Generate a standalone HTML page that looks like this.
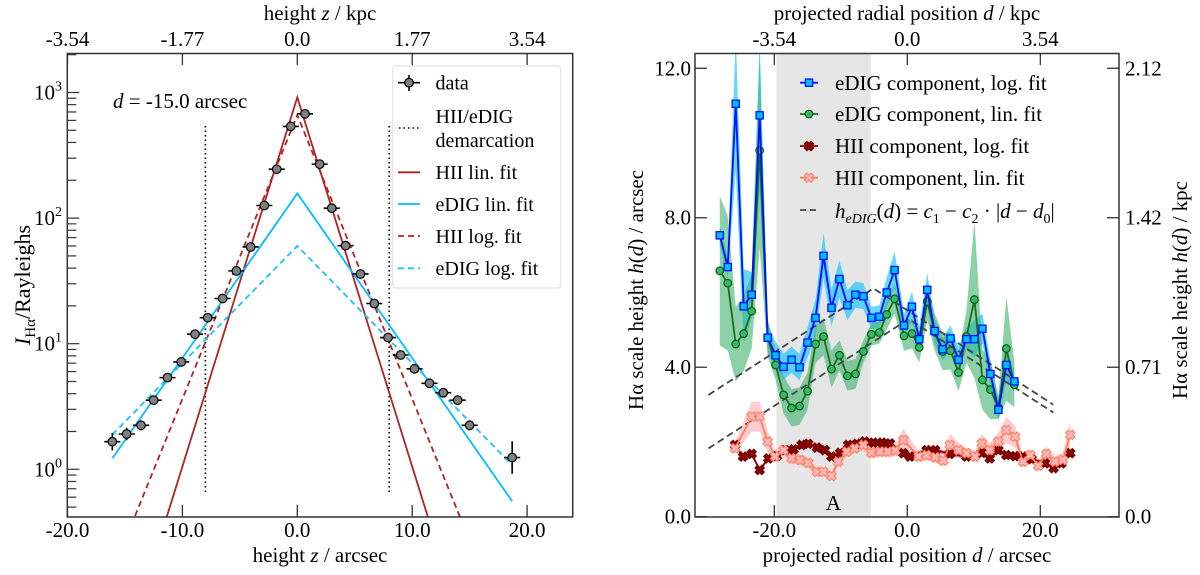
<!DOCTYPE html>
<html><head><meta charset="utf-8"><style>
html,body{margin:0;padding:0;background:#fff;width:1200px;height:575px;overflow:hidden;}
svg{display:block;}
svg, svg text{font-family:"Liberation Serif","DejaVu Serif","Times New Roman",serif;}
</style></head><body>
<svg id="fig" width="1200" height="575" viewBox="0 0 1200 575" font-family="Liberation Serif, DejaVu Serif, serif" xmlns="http://www.w3.org/2000/svg">
<defs>
<clipPath id="clipL"><rect x="67.3" y="53.5" width="505.4" height="463.5"/></clipPath>
<clipPath id="clipR"><rect x="695" y="53.5" width="424" height="463.5"/></clipPath>
</defs>
<g id="left"></g>
<g id="right"></g>
</svg>
<script>
// ---------- LEFT PANEL DATA ----------
const zData=[-16.1,-14.85,-13.6,-12.5,-11.3,-10.1,-8.9,-7.8,-6.5,-5.3,-4.06,-2.87,-1.79,-0.57,0.67,1.95,3.0,4.2,5.5,6.7,7.9,9.0,10.2,11.5,12.7,13.96,15.0,18.7];
const iData=[1.66,1.91,2.24,3.55,5.37,7.16,11.9,16.1,22.9,38.0,58.9,126,245,537,676,269,120,60.3,35.9,20.9,11.2,8.13,6.31,4.84,4.07,3.55,2.24,1.24];
const iErrDex=[0.07,0.05,0.04,0.03,0.03,0.03,0.03,0.03,0.03,0.03,0.03,0.03,0.03,0.03,0.03,0.03,0.03,0.03,0.03,0.03,0.03,0.03,0.03,0.03,0.03,0.03,0.04,0.13];
const zErr=0.7;
const fitNames=["HII lin. fit","eDIG lin. fit","HII log. fit","eDIG log. fit"];
const fitPeak=[916,157,661,60];
const fitSlopeDex=[0.294,0.131,0.226,0.0933];
const fitZmin=[-20,-16.1,-20,-16.1];
const fitZmax=[24,18.7,24,18.7];
const demarcZ=[-8,8];
const xTicksL=[-20,-10,0,10,20];
const xTickLabelsL=["-20.0","-10.0","0.0","10.0","20.0"];
const topTickLabelsL=["-3.54","-1.77","0.0","1.77","3.54"];
const yDecades=[0,1,2,3];

// ---------- RIGHT PANEL DATA ----------
const dGrid=[-28.2,-27.0,-25.8,-24.6,-23.4,-22.2,-21.0,-19.8,-18.6,-17.4,-16.2,-15.0,-13.8,-12.6,-11.4,-10.2,-9.0,-7.8,-6.6,-5.4,-4.2,-3.1,-1.9,-0.5,0.7,1.8,3.0,4.1,5.3,6.5,7.7,8.9,10.1,11.3,12.5,13.7,14.9,16.1];
const edigLog=[7.53,6.68,11.05,5.63,5.94,10.74,4.79,4.32,4.01,4.2,4.0,4.66,5.32,6.98,5.59,6.36,5.66,5.94,5.9,5.32,5.35,6.0,6.6,5.12,5.62,4.75,6.07,4.97,4.48,4.77,4.2,4.75,4.75,5.03,3.82,2.86,4.06,3.62];
const edigLogErr=[0.25,0.3,1.8,1.0,0.6,2.0,0.4,0.35,0.35,0.35,0.35,0.4,0.5,0.6,0.5,0.5,0.4,0.35,0.35,0.3,0.3,0.4,0.5,0.3,0.4,0.35,0.45,0.35,0.3,0.35,0.35,0.3,0.5,0.4,0.35,0.3,0.4,0.3];
const edigLin=[6.58,6.25,4.62,4.9,5.5,9.8,4.79,4.06,3.26,2.91,2.96,3.36,4.62,4.82,3.95,4.32,3.77,3.82,4.42,4.88,4.93,5.41,5.83,4.84,4.9,4.53,5.76,4.95,4.42,4.44,3.86,4.82,5.81,3.66,3.4,2.92,4.5,3.53];
const edigLinErr=[2.0,1.8,1.0,1.0,1.0,2.6,0.5,0.4,0.5,0.5,0.5,0.5,0.5,0.5,0.5,0.4,0.4,0.4,0.3,0.3,0.3,0.4,0.4,0.4,0.4,0.4,0.5,0.5,0.5,0.5,0.5,0.7,2.1,0.8,0.8,0.3,1.4,0.6];
const hiiLogD=[-25.9,-24.7,-23.4,-22.2,-20.9,-19.6,-18.4,-17.1,-15.9,-14.9,-13.6,-12.4,-11.4,-10.1,-8.9,-7.6,-6.4,-5.1,-3.8,-2.6,-0.6,0.4,2.9,4.2,6.4,8.9,11.2,12.4,13.7,14.9,16.2,17.4,18.7,20.7,22.0,23.2,24.5];
const hiiLog=[1.92,1.61,1.68,1.25,1.56,1.62,1.78,1.80,1.92,1.95,1.85,1.78,1.61,1.71,1.92,1.95,2.01,1.98,1.98,1.96,1.70,1.61,1.78,1.78,1.68,1.61,1.71,1.56,1.78,1.65,1.62,1.61,1.54,1.43,1.30,1.43,1.70];
const hiiLinD=[-25.9,-23.4,-22.2,-21.0,-19.9,-18.6,-17.4,-16.1,-14.9,-13.6,-12.6,-11.4,-10.4,-9.1,-7.9,-6.6,-5.4,-4.1,-2.9,-1.8,-0.6,1.7,2.9,4.2,5.4,6.4,7.7,8.9,10.2,11.2,12.4,13.7,14.9,16.2,17.4,18.5,19.7,20.9,22.2,23.4,24.5];
const hiiLin=[1.83,2.68,2.68,2.01,1.61,1.78,1.56,1.52,1.44,1.20,1.20,1.09,1.47,1.74,1.83,1.92,1.71,1.74,1.74,1.77,2.05,1.61,1.65,1.59,1.50,1.92,1.78,1.70,1.61,1.96,1.78,2.01,2.32,2.14,1.47,1.65,1.36,1.68,1.47,1.52,2.19];
const hiiLinErr=[0.15,0.4,0.4,0.3,0.15,0.15,0.15,0.15,0.15,0.12,0.12,0.12,0.15,0.15,0.15,0.15,0.15,0.15,0.15,0.15,0.3,0.15,0.15,0.15,0.15,0.3,0.2,0.15,0.15,0.25,0.2,0.25,0.35,0.3,0.15,0.15,0.15,0.2,0.15,0.2,0.35];
const fitC1=[6.11,5.29];
const fitC2=[0.115,0.115];
const fitD0=[-5.1,0.2];
const fitDRange=[-29.9,21.95];
const regionA=[-19.7,-5.5];
const xTicksR=[-20,0,20];
const xTickLabelsR=["-20.0","0.0","20.0"];
const topTickLabelsR=["-3.54","0.0","3.54"];
const yTicksR=[0,4,8,12];
const yTickLabelsR=["0.0","4.0","8.0","12.0"];
const yTickLabelsKpc=["0.0","0.71","1.42","2.12"];

// ---------- helpers ----------
const NS="http://www.w3.org/2000/svg";
const FF="Liberation Serif, DejaVu Serif, serif";
function mk(parent,tag,attrs,text){const e=document.createElementNS(NS,tag);for(const k in attrs)e.setAttribute(k,attrs[k]);if(tag==='text')e.setAttribute('font-family',FF);if(text!==undefined)e.textContent=text;parent.appendChild(e);return e;}
const xL=z=>297.3+11.49*z;
const yL=I=>469.3-125.6*Math.log10(I);
const xR=d=>907.3+6.65*d;
const yR=h=>516.7-37.37*h;
const L=document.getElementById('left'), R=document.getElementById('right');

// ===== LEFT =====
const gL=mk(L,'g',{'clip-path':'url(#clipL)'});


demarcZ.forEach(z=>{const l=mk(gL,'line',{x1:xL(z),x2:xL(z),y1:126,y2:495,stroke:'#000','stroke-width':1.6,'stroke-dasharray':'1.5,3'});

});
const fitColors=['#b22222','#00bfff','#b22222','#1ec0f5'];
const fitDash=['','','6,4','6,4'];
const fitKeys=['hii-lin-fit','edig-lin-fit','hii-log-fit','edig-log-fit'];
for(let i=0;i<4;i++){
  const z1=fitZmin[i],z2=fitZmax[i];
  const f=z=>fitPeak[i]*Math.pow(10,-fitSlopeDex[i]*Math.abs(z));
  const p=`M${xL(z1)},${yL(f(z1))} L${xL(0)},${yL(f(0))} L${xL(z2)},${yL(f(z2))}`;
  const e=mk(gL,'path',{d:p,fill:'none',stroke:fitColors[i],'stroke-width':1.8,'stroke-dasharray':fitDash[i]});
  
  
}
zData.forEach((z,i)=>{
  const g=mk(gL,'g',{});
  
  
  const x=xL(z),y=yL(iData[i]);
  mk(g,'line',{x1:xL(z-zErr),x2:xL(z+zErr),y1:y,y2:y,stroke:'#000','stroke-width':1.6});
  mk(g,'line',{x1:x,x2:x,y1:yL(iData[i]*Math.pow(10,iErrDex[i])),y2:yL(iData[i]/Math.pow(10,iErrDex[i])),stroke:'#000','stroke-width':1.6});
  mk(g,'circle',{cx:x,cy:y,r:4.3,fill:'#808080',stroke:'#000','stroke-width':1.2});
});
const fL=mk(L,'rect',{x:67.3,y:53.5,width:505.4,height:463.5,fill:'none',stroke:'#333','stroke-width':1.5});


xTicksL.forEach((z,i)=>{
  mk(L,'line',{x1:xL(z),x2:xL(z),y1:517,y2:505,stroke:'#333','stroke-width':1.3});
  mk(L,'line',{x1:xL(z),x2:xL(z),y1:53.5,y2:65,stroke:'#333','stroke-width':1.3});
  const t=mk(L,'text',{x:xL(z),y:537,'text-anchor':'middle','font-size':21},xTickLabelsL[i]);
  
  
  const t2=mk(L,'text',{x:xL(z),y:46,'text-anchor':'middle','font-size':21},topTickLabelsL[i]);
  
  
});
for(let dec=-1;dec<=3;dec++){for(let k=1;k<=9;k++){const v=k*Math.pow(10,dec);const y=yL(v);if(y<54||y>516)continue;
  mk(L,'line',{x1:67.3,x2:67.3+(k===1?12:9),y1:y,y2:y,stroke:'#333','stroke-width':1.2});}}
yDecades.forEach(p=>{const t=mk(L,'text',{x:62,y:yL(Math.pow(10,p))+7,'text-anchor':'end','font-size':21});
  
  
  t.appendChild(document.createTextNode('10'));mk(t,'tspan',{dy:-9,'font-size':14},String(p));});
</script>
<script>
(function(){
const L=document.getElementById('left');
L.insertAdjacentHTML('beforeend',`
<text x="320" y="562" text-anchor="middle" font-size="21" font-family="Liberation Serif, DejaVu Serif, serif">height <tspan font-style="italic">z</tspan> / arcsec</text>
<text x="320" y="20" text-anchor="middle" font-size="21" font-family="Liberation Serif, DejaVu Serif, serif">height <tspan font-style="italic">z</tspan> / kpc</text>
<text transform="translate(30,285) rotate(-90)" text-anchor="middle" font-size="22" font-family="Liberation Serif, DejaVu Serif, serif"><tspan font-style="italic">I</tspan><tspan font-size="15" dy="5">Hα</tspan><tspan dy="-5">/Rayleighs</tspan></text>
<text x="113" y="108" font-size="21" font-family="Liberation Serif, DejaVu Serif, serif"><tspan font-style="italic">d</tspan> = -15.0 arcsec</text>
<g font-family="Liberation Serif, DejaVu Serif, serif">
<rect x="392.7" y="66" width="168" height="222" rx="3" fill="#fff" fill-opacity="0.85" stroke="#ddd" stroke-width="1"/>
<g><line x1="398" x2="420" y1="82.7" y2="82.7" stroke="#000" stroke-width="1.6"/><line x1="409" x2="409" y1="75" y2="91" stroke="#000" stroke-width="1.6"/><circle cx="409" cy="82.7" r="4.3" fill="#808080" stroke="#000" stroke-width="1.2"/><text x="435.5" y="89.5" font-size="20">data</text></g>
<g><line x1="399" x2="420" y1="128" y2="128" stroke="#000" stroke-width="1.6" stroke-dasharray="1.5,3"/><text x="435.5" y="123" font-size="20">HII/eDIG</text><text x="435.5" y="147" font-size="20">demarcation</text></g>
<g><line x1="398" x2="420" y1="172.3" y2="172.3" stroke="#b22222" stroke-width="1.8"/><text x="435.5" y="179" font-size="20">HII lin. fit</text></g>
<g><line x1="398" x2="420" y1="204" y2="204" stroke="#00bfff" stroke-width="1.8"/><text x="435.5" y="211" font-size="20">eDIG lin. fit</text></g>
<g><line x1="398" x2="420" y1="236" y2="236" stroke="#b22222" stroke-width="1.8" stroke-dasharray="6,4"/><text x="435.5" y="243" font-size="20">HII log. fit</text></g>
<g><line x1="398" x2="420" y1="268.3" y2="268.3" stroke="#1ec0f5" stroke-width="1.8" stroke-dasharray="6,4"/><text x="435.5" y="275" font-size="20">eDIG log. fit</text></g>
</g>`);
})();
</script>
<script>
(function(){
const gR=mk(R,'g',{'clip-path':'url(#clipR)'});


const ra=mk(gR,'rect',{x:xR(regionA[0]),y:53.5,width:xR(regionA[1])-xR(regionA[0]),height:463.5,fill:'#e6e6e6'});


const ta=mk(gR,'text',{x:(xR(regionA[0])+xR(regionA[1]))/2+10,y:510,'text-anchor':'middle','font-size':21},'A');


function band(xs,ys,errs,color,op,name){
  let p='M'+xs.map((d,i)=>xR(d)+','+yR(ys[i]+errs[i])).join(' L');
  for(let i=xs.length-1;i>=0;i--)p+=' L'+xR(xs[i])+','+yR(ys[i]-errs[i]);
  const e=mk(gR,'path',{d:p+'Z',fill:color,'fill-opacity':op,stroke:'none'});
  
  
}
band(dGrid,edigLog,edigLogErr,'#00bfff',0.6,'edig-log-band');
band(dGrid,edigLin,edigLinErr,'#3cb371',0.6,'edig-lin-band');
band(hiiLinD,hiiLin,hiiLinErr,'#ffb6c1',0.7,'hii-lin-band');
band(hiiLogD,hiiLog,hiiLog.map(()=>0.06),'#8b0000',0.35,'hii-log-band');
for(let k=0;k<2;k++){
  const f=d=>fitC1[k]-fitC2[k]*Math.abs(d-fitD0[k]);
  const p=`M${xR(fitDRange[0])},${yR(f(fitDRange[0]))} L${xR(fitD0[k])},${yR(f(fitD0[k]))} L${xR(fitDRange[1])},${yR(f(fitDRange[1]))}`;
  const e=mk(gR,'path',{d:p,fill:'none',stroke:'#444','stroke-width':1.8,'stroke-dasharray':'7,4'});
  
  
}
function xMark(g,cx,cy,fill,stroke){
  const a=4.8,b=1.9;
  const pts=[[b,a],[b,b],[a,b],[a,-b],[b,-b],[b,-a],[-b,-a],[-b,-b],[-a,-b],[-a,b],[-b,b],[-b,a]].map(p=>p.join(',')).join(' ');
  mk(g,'polygon',{points:pts,transform:`translate(${cx},${cy}) rotate(45)`,fill:fill,stroke:stroke,'stroke-width':1});
}
function series(xs,ys,lineColor,name,marker){
  const g=mk(gR,'g',{});
  
  
  mk(g,'polyline',{points:xs.map((d,i)=>xR(d)+','+yR(ys[i])).join(' '),fill:'none',stroke:lineColor,'stroke-width':1.8});
  xs.forEach((d,i)=>marker(g,xR(d),yR(ys[i])));
}
series(hiiLogD,hiiLog,'#8b0000','hii-log-series',(g,x,y)=>xMark(g,x,y,'#8b0000','#6b0000'));
series(hiiLinD,hiiLin,'#ff7f50','hii-lin-series',(g,x,y)=>xMark(g,x,y,'#ffb6c1','#ff7f50'));
series(dGrid,edigLin,'#1a6e1a','edig-lin-series',(g,x,y)=>mk(g,'circle',{cx:x,cy:y,r:3.8,fill:'#3cb371',stroke:'#006400','stroke-width':1.2}));
series(dGrid,edigLog,'#0010ff','edig-log-series',(g,x,y)=>mk(g,'rect',{x:x-3.6,y:y-3.6,width:7.2,height:7.2,fill:'#00bfff',stroke:'#0010ff','stroke-width':1.3}));
const fr=mk(R,'rect',{x:695,y:53.5,width:424,height:463.5,fill:'none',stroke:'#333','stroke-width':1.5});


xTicksR.forEach((d,i)=>{
  mk(R,'line',{x1:xR(d),x2:xR(d),y1:517,y2:505,stroke:'#333','stroke-width':1.3});
  mk(R,'line',{x1:xR(d),x2:xR(d),y1:53.5,y2:65,stroke:'#333','stroke-width':1.3});
  const t=mk(R,'text',{x:xR(d),y:537,'text-anchor':'middle','font-size':21},xTickLabelsR[i]);
  
  
  const t2=mk(R,'text',{x:xR(d),y:46,'text-anchor':'middle','font-size':21},topTickLabelsR[i]);
  
  
});
yTicksR.forEach((h,i)=>{
  mk(R,'line',{x1:695,x2:707,y1:yR(h),y2:yR(h),stroke:'#333','stroke-width':1.3});
  mk(R,'line',{x1:1119,x2:1107,y1:yR(h),y2:yR(h),stroke:'#333','stroke-width':1.3});
  const t=mk(R,'text',{x:691,y:yR(h)+7,'text-anchor':'end','font-size':21},yTickLabelsR[i]);
  
  
  const t2=mk(R,'text',{x:1125,y:yR(h)+7,'text-anchor':'start','font-size':21},yTickLabelsKpc[i]);
  
  
});
R.insertAdjacentHTML('beforeend',`
<text x="907" y="562" text-anchor="middle" font-size="21" font-family="Liberation Serif, DejaVu Serif, serif">projected radial position <tspan font-style="italic">d</tspan> / arcsec</text>
<text x="907" y="20" text-anchor="middle" font-size="21" font-family="Liberation Serif, DejaVu Serif, serif">projected radial position <tspan font-style="italic">d</tspan> / kpc</text>
<text transform="translate(643,290) rotate(-90)" text-anchor="middle" font-size="21" font-family="Liberation Serif, DejaVu Serif, serif">Hα scale height <tspan font-style="italic">h</tspan>(<tspan font-style="italic">d</tspan>) / arcsec</text>
<text transform="translate(1187,290) rotate(-90)" text-anchor="middle" font-size="21" font-family="Liberation Serif, DejaVu Serif, serif">Hα scale height <tspan font-style="italic">h</tspan>(<tspan font-style="italic">d</tspan>) / kpc</text>
<g font-family="Liberation Serif, DejaVu Serif, serif">
<g><line x1="800" x2="818" y1="82.7" y2="82.7" stroke="#0010ff" stroke-width="1.8"/><rect x="805.4" y="79.1" width="7.2" height="7.2" fill="#00bfff" stroke="#0010ff" stroke-width="1.3"/><text x="835" y="90" font-size="21">eDIG component, log. fit</text></g>
<g><line x1="800" x2="818" y1="114" y2="114" stroke="#1a6e1a" stroke-width="1.8"/><circle cx="809" cy="114" r="3.8" fill="#3cb371" stroke="#006400" stroke-width="1.2"/><text x="835" y="121" font-size="21">eDIG component, lin. fit</text></g>
<g><line x1="800" x2="818" y1="146" y2="146" stroke="#8b0000" stroke-width="1.8"/><polygon points="1.9,4.8 1.9,1.9 4.8,1.9 4.8,-1.9 1.9,-1.9 1.9,-4.8 -1.9,-4.8 -1.9,-1.9 -4.8,-1.9 -4.8,1.9 -1.9,1.9 -1.9,4.8" transform="translate(809,146) rotate(45)" fill="#8b0000" stroke="#6b0000"/><text x="835" y="153" font-size="21">HII component, log. fit</text></g>
<g><line x1="800" x2="818" y1="177.7" y2="177.7" stroke="#ff7f50" stroke-width="1.8"/><polygon points="1.9,4.8 1.9,1.9 4.8,1.9 4.8,-1.9 1.9,-1.9 1.9,-4.8 -1.9,-4.8 -1.9,-1.9 -4.8,-1.9 -4.8,1.9 -1.9,1.9 -1.9,4.8" transform="translate(809,177.7) rotate(45)" fill="#ffb6c1" stroke="#ff7f50"/><text x="835" y="185" font-size="21">HII component, lin. fit</text></g>
<g><line x1="800" x2="818" y1="210" y2="210" stroke="#444" stroke-width="1.8" stroke-dasharray="6,4"/><text x="835" y="218" font-size="21"><tspan font-style="italic">h</tspan><tspan font-style="italic" font-size="14" dy="5">eDIG</tspan><tspan dy="-5">(</tspan><tspan font-style="italic">d</tspan>) = <tspan font-style="italic">c</tspan><tspan font-size="14" dy="5">1</tspan><tspan dy="-5"> − </tspan><tspan font-style="italic">c</tspan><tspan font-size="14" dy="5">2</tspan><tspan dy="-5"> · |</tspan><tspan font-style="italic">d</tspan> − <tspan font-style="italic">d</tspan><tspan font-size="14" dy="5">0</tspan><tspan dy="-5">|</tspan></text></g>
</g>`);
})();
</script>
</body></html>
